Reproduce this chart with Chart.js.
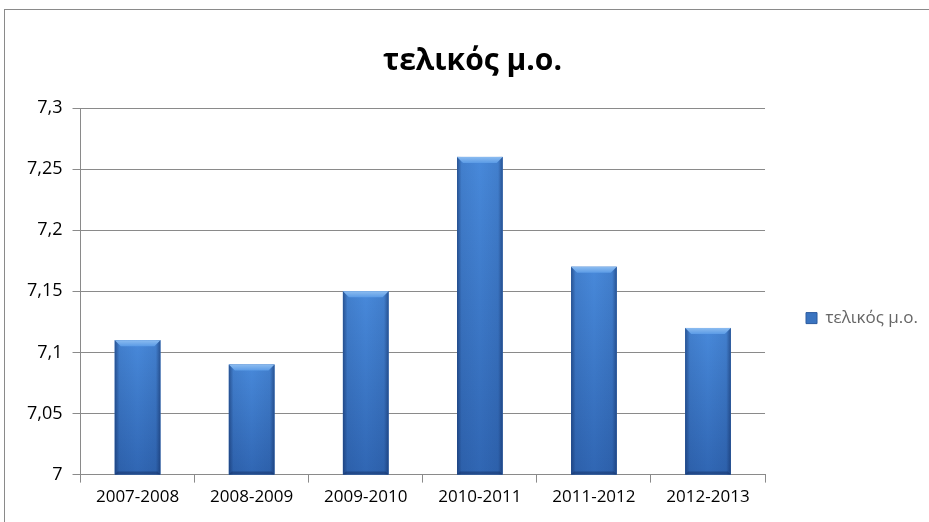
<!DOCTYPE html>
<html>
<head>
<meta charset="utf-8">
<script src="https://cdn.jsdelivr.net/npm/chart.js@4"></script>
<style>
  html, body { margin: 0; padding: 0; background: #fff; }
  #wrap { position: relative; width: 929px; height: 522px; }
  #frame { position: absolute; left: 4px; top: 9px; right: -2px; bottom: -2px; border-top: 1px solid #8a8a8a; border-left: 1px solid #8a8a8a; }
  canvas { position: absolute; left: 0; top: 0; }
</style>
</head>
<body>
<div id="wrap">
  <div id="frame"></div>
  <canvas id="chart" width="929" height="522"></canvas>
</div>
<script>
// data
const seasons = ['2007-2008', '2008-2009', '2009-2010', '2010-2011', '2011-2012', '2012-2013'];
const finalAvg = [7.11, 7.09, 7.15, 7.26, 7.17, 7.12];
const seriesName = 'τελικός μ.ο.';

const FONT = "'Open Sans', 'Noto Sans', sans-serif";

function commaNum(v) {
  return String(Math.round(v * 100) / 100).replace('.', ',');
}

// Excel-like bevelled bar look on top of the flat fill
const bevelBars = {
  id: 'bevelBars',
  afterDatasetsDraw(chart) {
    const ctx = chart.ctx;
    const area = chart.chartArea;
    chart.getDatasetMeta(0).data.forEach(bar => {
      const { x, y, width, base: rawBase } = bar.getProps(['x', 'y', 'width', 'base'], true);
      const base = Math.min(rawBase, area.bottom);
      const l = x - width / 2, r = x + width / 2, h = base - y;
      ctx.save();
      // body: lighter top, darker bottom
      const vg = ctx.createLinearGradient(0, y, 0, base);
      vg.addColorStop(0, '#4889da');
      vg.addColorStop(1, '#3066b3');
      ctx.fillStyle = vg;
      ctx.fillRect(l, y, width, h);
      // darker side edges
      const hg = ctx.createLinearGradient(l, 0, r, 0);
      hg.addColorStop(0, 'rgba(15,40,90,0.55)');
      hg.addColorStop(0.1, 'rgba(15,40,90,0.1)');
      hg.addColorStop(0.5, 'rgba(15,40,90,0)');
      hg.addColorStop(0.9, 'rgba(15,40,90,0.1)');
      hg.addColorStop(1, 'rgba(15,40,90,0.55)');
      ctx.fillStyle = hg;
      ctx.fillRect(l, y, width, h);
      // top bevel
      const b = 6;
      const tg = ctx.createLinearGradient(0, y, 0, y + b);
      tg.addColorStop(0, '#8cbcf0');
      tg.addColorStop(1, '#5b9be6');
      ctx.fillStyle = tg;
      ctx.beginPath();
      ctx.moveTo(l, y);
      ctx.lineTo(r, y);
      ctx.lineTo(r - b, y + b);
      ctx.lineTo(l + b, y + b);
      ctx.closePath();
      ctx.fill();
      // bottom shade
      ctx.fillStyle = 'rgba(20,45,95,0.45)';
      ctx.beginPath();
      ctx.moveTo(l, base);
      ctx.lineTo(r, base);
      ctx.lineTo(r - 3, base - 3);
      ctx.lineTo(l + 3, base - 3);
      ctx.closePath();
      ctx.fill();
      ctx.restore();
    });
  }
};

new Chart(document.getElementById('chart'), {
  type: 'bar',
  data: {
    labels: seasons,
    datasets: [{
      label: seriesName,
      data: finalAvg,
      backgroundColor: '#3a74c0',
      borderWidth: 0,
      barPercentage: 0.8,
      categoryPercentage: 0.5,
    }],
  },
  options: {
    responsive: false,
    animation: false,
    layout: { padding: { left: 17, right: 1, top: 20, bottom: 11 } },
    plugins: {
      title: {
        display: true, text: seriesName, color: '#000',
        font: { family: FONT, size: 30, weight: 'bold' },
        padding: { top: 23, bottom: 29 },
      },
      legend: {
        position: 'right',
        // empty title only pushes the single entry down to where it sits in the original
        title: { display: true, text: ' ', font: { family: FONT, size: 16 }, padding: { top: 0, bottom: 86 } },
        labels: {
          color: '#000', font: { family: FONT, size: 17 },
          boxWidth: 11, boxHeight: 11, padding: 41,
          generateLabels: () => [{ text: seriesName, fillStyle: '#3a74c0', strokeStyle: '#2a5a9e', lineWidth: 1, datasetIndex: 0 }],
        },
      },
      tooltip: { enabled: false },
    },
    scales: {
      x: {
        grid: { display: true, drawOnChartArea: false, color: '#8a8a8a', tickLength: 8, offset: true },
        border: { color: '#8a8a8a' },
        ticks: { color: '#000', font: { family: FONT, size: 17 }, padding: 4 },
      },
      y: {
        min: 7, max: 7.3,
        grid: { color: '#8a8a8a', tickLength: 8 },
        border: { color: '#8a8a8a' },
        ticks: { stepSize: 0.05, color: '#000', font: { family: FONT, size: 18 }, padding: 10, callback: v => commaNum(v) },
      },
    },
  },
  plugins: [bevelBars],
});
</script>
</body>
</html>
